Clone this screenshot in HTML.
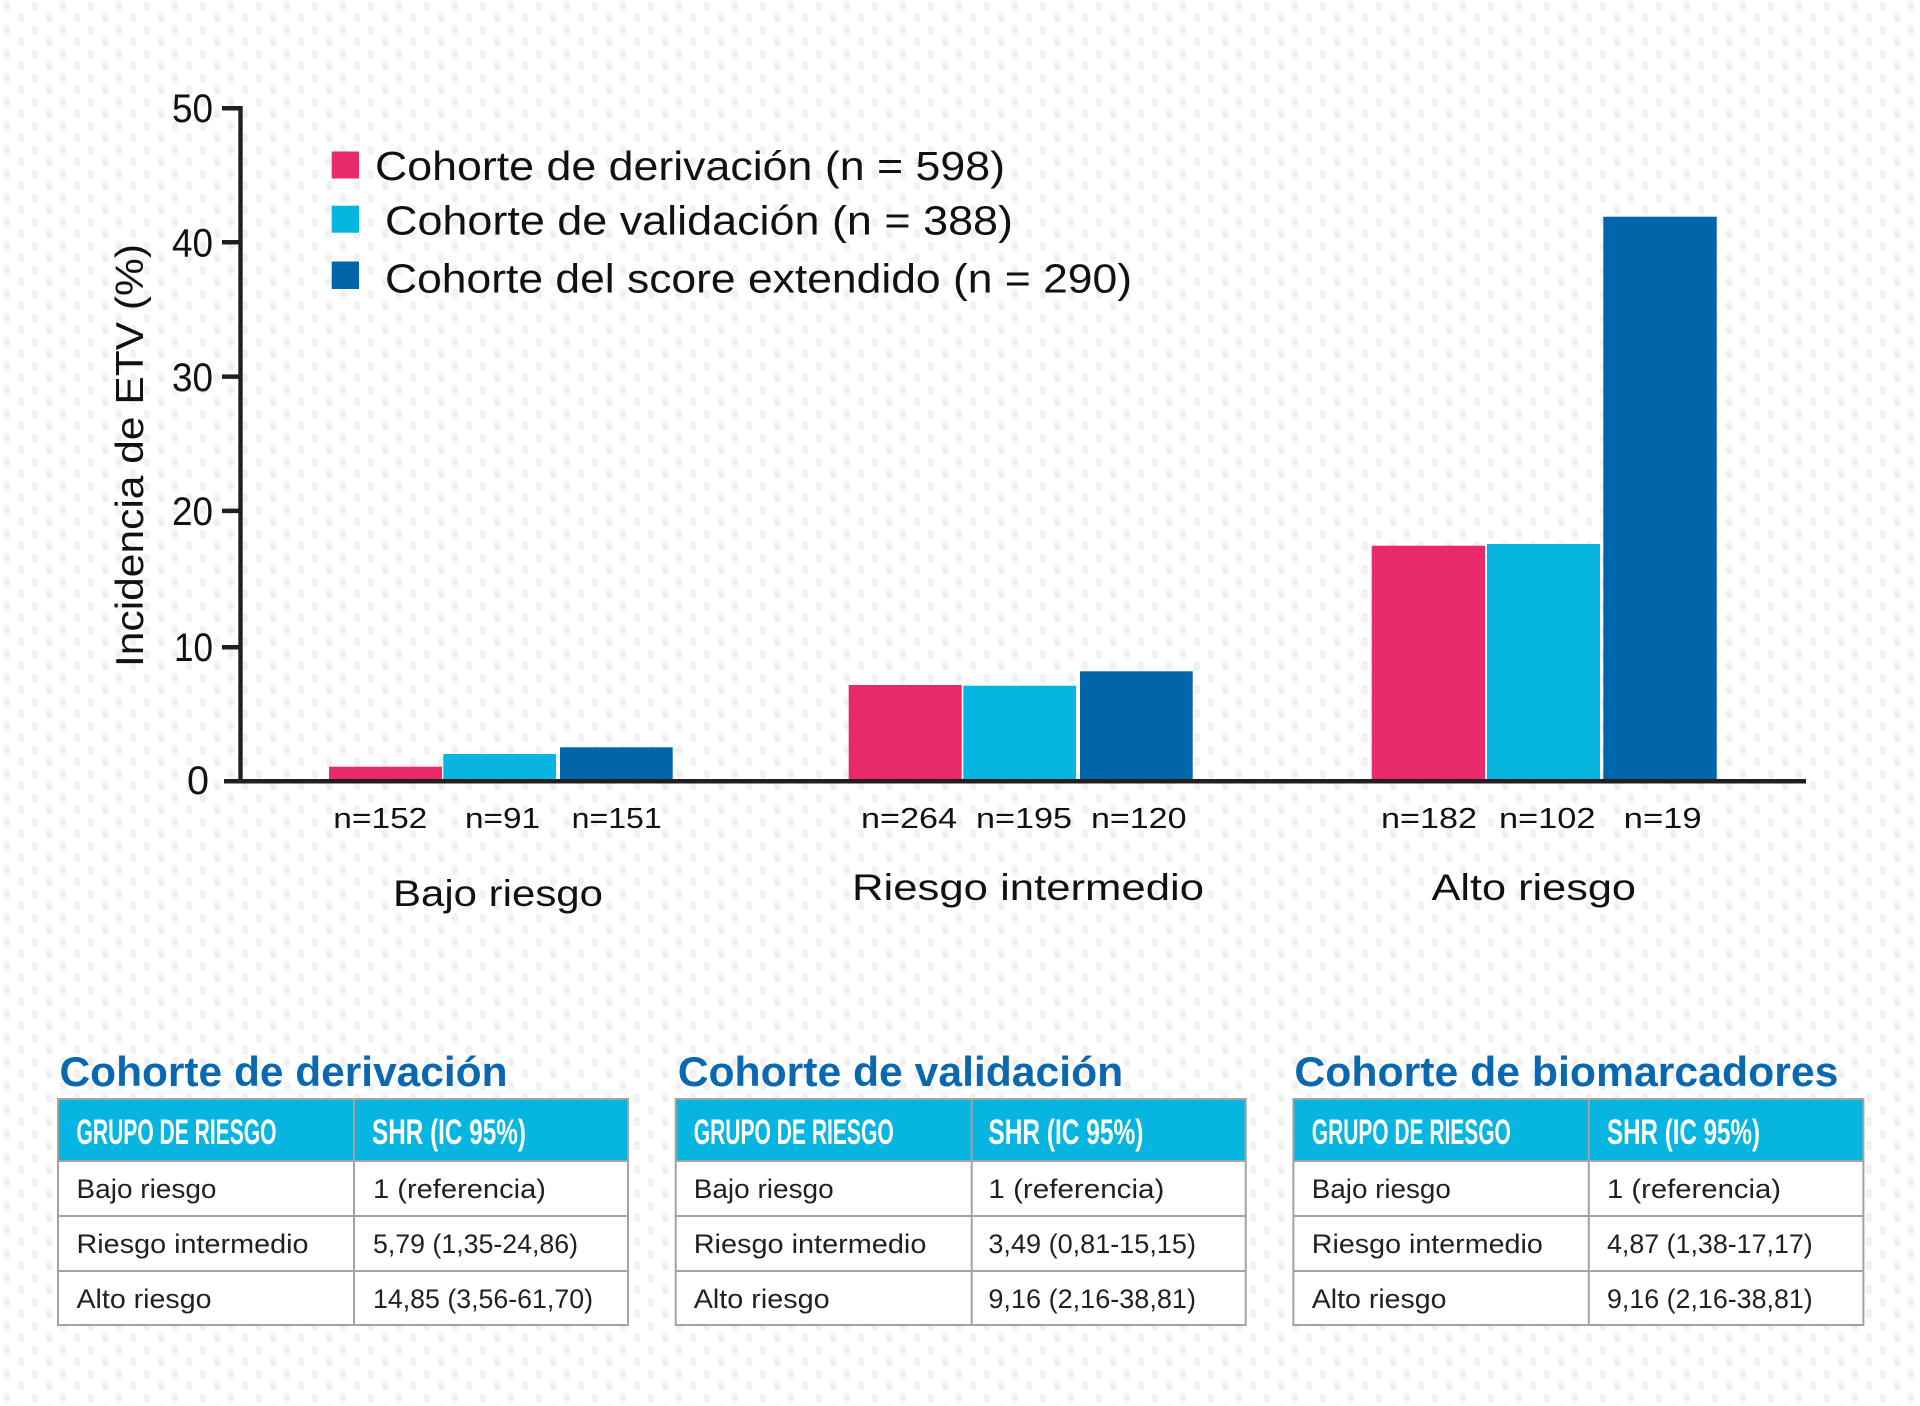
<!DOCTYPE html>
<html>
<head>
<meta charset="utf-8">
<style>
html,body{margin:0;padding:0;background:#fff;}
svg{display:block;}
text{font-family:"Liberation Sans",sans-serif;}
</style>
</head>
<body>
<svg width="1920" height="1406" viewBox="0 0 1920 1406" xmlns="http://www.w3.org/2000/svg">
  <defs>
    <pattern id="dots" x="0" y="0" width="28" height="24" patternUnits="userSpaceOnUse">
      <ellipse cx="7" cy="6" rx="3.5" ry="5" fill="#f1f1f1"/>
      <ellipse cx="21" cy="18" rx="3.5" ry="5" fill="#f1f1f1"/>
    </pattern>
  </defs>
  <rect x="0" y="0" width="1920" height="1406" fill="#fff"/>
  <rect x="0" y="0" width="1920" height="1406" fill="url(#dots)"/>

  <!-- Legend -->
  <rect x="331.7" y="151.5" width="27.3" height="27" fill="#e8296a"/>
  <rect x="331.7" y="205.7" width="27.3" height="27" fill="#06b6e0"/>
  <rect x="331.7" y="261.5" width="27.3" height="27.5" fill="#0066aa"/>
  <text x="375" y="180" font-size="41" fill="#111" textLength="630" lengthAdjust="spacingAndGlyphs">Cohorte de derivación (n = 598)</text>
  <text x="385" y="234.5" font-size="41" fill="#111" textLength="628" lengthAdjust="spacingAndGlyphs">Cohorte de validación (n = 388)</text>
  <text x="385" y="292.5" font-size="41" fill="#111" textLength="747" lengthAdjust="spacingAndGlyphs">Cohorte del score extendido (n = 290)</text>

  <!-- Y label -->
  <text transform="translate(143,667) rotate(-90)" x="0" y="0" font-size="39" fill="#111" textLength="423" lengthAdjust="spacingAndGlyphs">Incidencia de ETV (%)</text>

  <!-- Y ticks & labels -->
  <g fill="#111" font-size="40" text-anchor="end">
    <text x="213" y="122" textLength="41" lengthAdjust="spacingAndGlyphs">50</text>
    <text x="213" y="256.5" textLength="41" lengthAdjust="spacingAndGlyphs">40</text>
    <text x="213" y="390.8" textLength="41" lengthAdjust="spacingAndGlyphs">30</text>
    <text x="213" y="525" textLength="41" lengthAdjust="spacingAndGlyphs">20</text>
    <text x="213" y="661" textLength="39" lengthAdjust="spacingAndGlyphs">10</text>
    <text x="209" y="794" textLength="22" lengthAdjust="spacingAndGlyphs">0</text>
  </g>
  <g stroke="#231f20" stroke-width="4.5">
    <line x1="222" y1="108.3" x2="242" y2="108.3"/>
    <line x1="222" y1="242.3" x2="242" y2="242.3"/>
    <line x1="222" y1="376.6" x2="242" y2="376.6"/>
    <line x1="222" y1="510.9" x2="242" y2="510.9"/>
    <line x1="222" y1="647.2" x2="242" y2="647.2"/>
  </g>
  <rect x="238.3" y="106" width="4.4" height="677" fill="#231f20"/>

  <!-- Bars -->
  <g>
    <rect x="329" y="766.7" width="113" height="13" fill="#e8296a"/>
    <rect x="443.3" y="754" width="112.7" height="25.5" fill="#06b6e0"/>
    <rect x="560" y="747.3" width="112.7" height="32" fill="#0066aa"/>

    <rect x="848.7" y="685" width="113" height="94.5" fill="#e8296a"/>
    <rect x="963.3" y="685.7" width="112.7" height="94" fill="#06b6e0"/>
    <rect x="1080" y="671.3" width="112.7" height="108" fill="#0066aa"/>

    <rect x="1371.7" y="545.7" width="113.3" height="234" fill="#e8296a"/>
    <rect x="1487" y="544" width="113" height="235.5" fill="#06b6e0"/>
    <rect x="1603.3" y="216.7" width="113.4" height="563" fill="#0066aa"/>
  </g>

  <!-- X axis -->
  <rect x="224" y="779" width="1582" height="4.5" fill="#231f20"/>

  <!-- n labels -->
  <g fill="#111" font-size="29">
    <text x="333.3" y="828" textLength="94" lengthAdjust="spacingAndGlyphs">n=152</text>
    <text x="465" y="828" textLength="75" lengthAdjust="spacingAndGlyphs">n=91</text>
    <text x="571.7" y="828" textLength="90" lengthAdjust="spacingAndGlyphs">n=151</text>
    <text x="861" y="828" textLength="96" lengthAdjust="spacingAndGlyphs">n=264</text>
    <text x="976" y="828" textLength="96" lengthAdjust="spacingAndGlyphs">n=195</text>
    <text x="1091" y="828" textLength="95.5" lengthAdjust="spacingAndGlyphs">n=120</text>
    <text x="1381" y="828" textLength="96" lengthAdjust="spacingAndGlyphs">n=182</text>
    <text x="1499" y="828" textLength="96.5" lengthAdjust="spacingAndGlyphs">n=102</text>
    <text x="1623.7" y="828" textLength="78" lengthAdjust="spacingAndGlyphs">n=19</text>
  </g>

  <!-- Group labels -->
  <g fill="#111" font-size="37">
    <text x="393" y="906" textLength="210" lengthAdjust="spacingAndGlyphs">Bajo riesgo</text>
    <text x="852" y="900" textLength="352" lengthAdjust="spacingAndGlyphs">Riesgo intermedio</text>
    <text x="1431.5" y="900" textLength="204.5" lengthAdjust="spacingAndGlyphs">Alto riesgo</text>
  </g>

  <!-- Table 1 -->
  <g transform="translate(58,0)">
    <text x="1.5" y="1086" font-size="42" font-weight="bold" fill="#0a68b0" textLength="448" lengthAdjust="spacingAndGlyphs">Cohorte de derivación</text>
    <rect x="0" y="1099" width="570" height="62" fill="#06b6e0"/>
    <rect x="0" y="1161" width="570" height="164" fill="#fff"/>
    <g stroke="#a3a3a3" stroke-width="2" fill="none">
      <rect x="0" y="1099" width="570" height="226"/>
      <line x1="0" y1="1161" x2="570" y2="1161"/>
      <line x1="0" y1="1216" x2="570" y2="1216"/>
      <line x1="0" y1="1271" x2="570" y2="1271"/>
      <line x1="296" y1="1099" x2="296" y2="1325"/>
    </g>
    <text x="18.5" y="1144" font-size="35" font-weight="bold" fill="#fff" textLength="200" lengthAdjust="spacingAndGlyphs">GRUPO DE RIESGO</text>
    <text x="314" y="1144" font-size="35" font-weight="bold" fill="#fff" textLength="154" lengthAdjust="spacingAndGlyphs">SHR (IC 95%)</text>
    <g font-size="27" fill="#231f20">
      <text x="18.5" y="1198" textLength="140" lengthAdjust="spacingAndGlyphs">Bajo riesgo</text>
      <text x="18.5" y="1253" textLength="232" lengthAdjust="spacingAndGlyphs">Riesgo intermedio</text>
      <text x="18.5" y="1308" textLength="135" lengthAdjust="spacingAndGlyphs">Alto riesgo</text>
      <text x="315" y="1198" textLength="173" lengthAdjust="spacingAndGlyphs">1 (referencia)</text>
      <text x="315" y="1253" textLength="205" lengthAdjust="spacingAndGlyphs">5,79 (1,35-24,86)</text>
      <text x="315" y="1308" textLength="220" lengthAdjust="spacingAndGlyphs">14,85 (3,56-61,70)</text>
    </g>
  </g>

  <!-- Table 2 -->
  <g transform="translate(675.7,0)">
    <text x="2" y="1086" font-size="42" font-weight="bold" fill="#0a68b0" textLength="445.5" lengthAdjust="spacingAndGlyphs">Cohorte de validación</text>
    <rect x="0" y="1099" width="570" height="62" fill="#06b6e0"/>
    <rect x="0" y="1161" width="570" height="164" fill="#fff"/>
    <g stroke="#a3a3a3" stroke-width="2" fill="none">
      <rect x="0" y="1099" width="570" height="226"/>
      <line x1="0" y1="1161" x2="570" y2="1161"/>
      <line x1="0" y1="1216" x2="570" y2="1216"/>
      <line x1="0" y1="1271" x2="570" y2="1271"/>
      <line x1="296" y1="1099" x2="296" y2="1325"/>
    </g>
    <text x="18" y="1144" font-size="35" font-weight="bold" fill="#fff" textLength="200" lengthAdjust="spacingAndGlyphs">GRUPO DE RIESGO</text>
    <text x="312.7" y="1144" font-size="35" font-weight="bold" fill="#fff" textLength="155" lengthAdjust="spacingAndGlyphs">SHR (IC 95%)</text>
    <g font-size="27" fill="#231f20">
      <text x="18" y="1198" textLength="140" lengthAdjust="spacingAndGlyphs">Bajo riesgo</text>
      <text x="18" y="1253" textLength="232.7" lengthAdjust="spacingAndGlyphs">Riesgo intermedio</text>
      <text x="18" y="1308" textLength="136" lengthAdjust="spacingAndGlyphs">Alto riesgo</text>
      <text x="312.7" y="1198" textLength="176" lengthAdjust="spacingAndGlyphs">1 (referencia)</text>
      <text x="312.7" y="1253" textLength="207.6" lengthAdjust="spacingAndGlyphs">3,49 (0,81-15,15)</text>
      <text x="312.7" y="1308" textLength="207.6" lengthAdjust="spacingAndGlyphs">9,16 (2,16-38,81)</text>
    </g>
  </g>

  <!-- Table 3 -->
  <g transform="translate(1293.4,0)">
    <text x="1" y="1086" font-size="42" font-weight="bold" fill="#0a68b0" textLength="544" lengthAdjust="spacingAndGlyphs">Cohorte de biomarcadores</text>
    <rect x="0" y="1099" width="570" height="62" fill="#06b6e0"/>
    <rect x="0" y="1161" width="570" height="164" fill="#fff"/>
    <g stroke="#a3a3a3" stroke-width="2" fill="none">
      <rect x="0" y="1099" width="570" height="226"/>
      <line x1="0" y1="1161" x2="570" y2="1161"/>
      <line x1="0" y1="1216" x2="570" y2="1216"/>
      <line x1="0" y1="1271" x2="570" y2="1271"/>
      <line x1="295.4" y1="1099" x2="295.4" y2="1325"/>
    </g>
    <text x="18.4" y="1144" font-size="35" font-weight="bold" fill="#fff" textLength="199" lengthAdjust="spacingAndGlyphs">GRUPO DE RIESGO</text>
    <text x="313.6" y="1144" font-size="35" font-weight="bold" fill="#fff" textLength="153" lengthAdjust="spacingAndGlyphs">SHR (IC 95%)</text>
    <g font-size="27" fill="#231f20">
      <text x="18.4" y="1198" textLength="139" lengthAdjust="spacingAndGlyphs">Bajo riesgo</text>
      <text x="18.4" y="1253" textLength="231" lengthAdjust="spacingAndGlyphs">Riesgo intermedio</text>
      <text x="18.4" y="1308" textLength="134.7" lengthAdjust="spacingAndGlyphs">Alto riesgo</text>
      <text x="313.6" y="1198" textLength="174" lengthAdjust="spacingAndGlyphs">1 (referencia)</text>
      <text x="313.6" y="1253" textLength="205.7" lengthAdjust="spacingAndGlyphs">4,87 (1,38-17,17)</text>
      <text x="313.6" y="1308" textLength="205.7" lengthAdjust="spacingAndGlyphs">9,16 (2,16-38,81)</text>
    </g>
  </g>
</svg>
</body>
</html>
